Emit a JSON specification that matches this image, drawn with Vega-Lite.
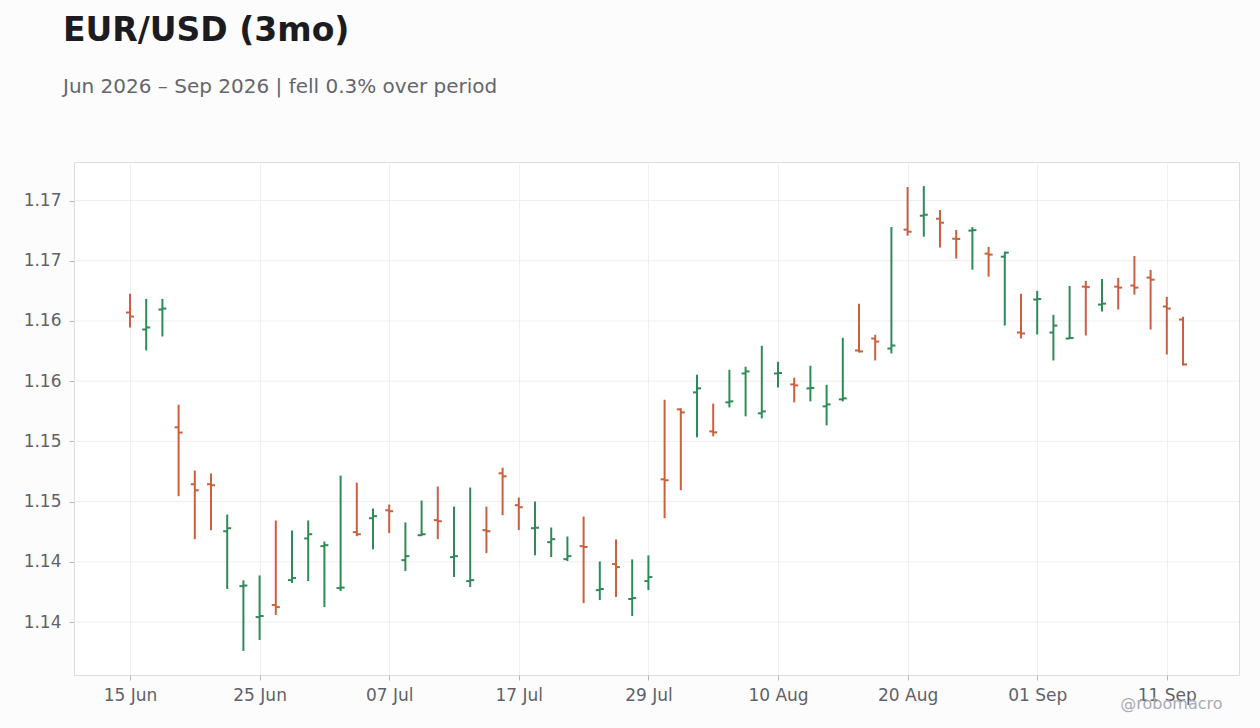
{
  "$schema": "https://vega.github.io/schema/vega-lite/v6.json",
  "width": 1165,
  "height": 513,
  "autosize": {"type": "none"},
  "padding": {"left": 74, "top": 162, "right": 21, "bottom": 53},
  "background": "#fcfcfc",
  "title": {
    "text": "EUR/USD (3mo)",
    "subtitle": "Jun 2026 – Sep 2026 | fell 0.3% over period",
    "anchor": "start",
    "frame": "group",
    "dx": -11,
    "offset": 65,
    "font": "DejaVu Sans",
    "fontSize": 33,
    "fontWeight": "bold",
    "color": "#1b1b20",
    "subtitleFont": "DejaVu Sans",
    "subtitleFontSize": 20,
    "subtitleColor": "#63666d",
    "subtitlePadding": 29
  },
  "data": {
    "values": [
      {"date": "2026-06-15", "open": 1.16070, "high": 1.16225, "low": 1.15946, "close": 1.16037},
      {"date": "2026-06-16", "open": 1.15929, "high": 1.16183, "low": 1.15755, "close": 1.15946},
      {"date": "2026-06-17", "open": 1.16095, "high": 1.16183, "low": 1.15871, "close": 1.16103},
      {"date": "2026-06-18", "open": 1.15117, "high": 1.15305, "low": 1.14545, "close": 1.15073},
      {"date": "2026-06-19", "open": 1.14644, "high": 1.14758, "low": 1.14188, "close": 1.14594},
      {"date": "2026-06-22", "open": 1.14644, "high": 1.14733, "low": 1.14263, "close": 1.14636},
      {"date": "2026-06-23", "open": 1.14254, "high": 1.14393, "low": 1.13774, "close": 1.14279},
      {"date": "2026-06-24", "open": 1.13798, "high": 1.13846, "low": 1.13260, "close": 1.13803},
      {"date": "2026-06-25", "open": 1.13541, "high": 1.13887, "low": 1.13351, "close": 1.13550},
      {"date": "2026-06-26", "open": 1.13641, "high": 1.14343, "low": 1.13558, "close": 1.13624},
      {"date": "2026-06-29", "open": 1.13848, "high": 1.14260, "low": 1.13823, "close": 1.13865},
      {"date": "2026-06-30", "open": 1.14194, "high": 1.14343, "low": 1.13840, "close": 1.14229},
      {"date": "2026-07-01", "open": 1.14130, "high": 1.14169, "low": 1.13624, "close": 1.14138},
      {"date": "2026-07-02", "open": 1.13782, "high": 1.14716, "low": 1.13757, "close": 1.13786},
      {"date": "2026-07-03", "open": 1.14246, "high": 1.14658, "low": 1.14213, "close": 1.14229},
      {"date": "2026-07-06", "open": 1.14362, "high": 1.14443, "low": 1.14105, "close": 1.14379},
      {"date": "2026-07-07", "open": 1.14428, "high": 1.14476, "low": 1.14238, "close": 1.14420},
      {"date": "2026-07-08", "open": 1.14014, "high": 1.14327, "low": 1.13923, "close": 1.14047},
      {"date": "2026-07-09", "open": 1.14221, "high": 1.14509, "low": 1.14213, "close": 1.14229},
      {"date": "2026-07-10", "open": 1.14346, "high": 1.14625, "low": 1.14188, "close": 1.14337},
      {"date": "2026-07-13", "open": 1.14039, "high": 1.14459, "low": 1.13873, "close": 1.14047},
      {"date": "2026-07-14", "open": 1.13840, "high": 1.14617, "low": 1.13790, "close": 1.13848},
      {"date": "2026-07-15", "open": 1.14263, "high": 1.14459, "low": 1.14072, "close": 1.14254},
      {"date": "2026-07-16", "open": 1.14735, "high": 1.14782, "low": 1.14387, "close": 1.14710},
      {"date": "2026-07-17", "open": 1.14470, "high": 1.14534, "low": 1.14263, "close": 1.14453},
      {"date": "2026-07-20", "open": 1.14279, "high": 1.14501, "low": 1.14055, "close": 1.14283},
      {"date": "2026-07-21", "open": 1.14163, "high": 1.14285, "low": 1.14039, "close": 1.14188},
      {"date": "2026-07-22", "open": 1.14022, "high": 1.14210, "low": 1.14006, "close": 1.14047},
      {"date": "2026-07-23", "open": 1.14130, "high": 1.14376, "low": 1.13657, "close": 1.14122},
      {"date": "2026-07-24", "open": 1.13765, "high": 1.14003, "low": 1.13682, "close": 1.13774},
      {"date": "2026-07-27", "open": 1.13981, "high": 1.14186, "low": 1.13707, "close": 1.13956},
      {"date": "2026-07-28", "open": 1.13691, "high": 1.14020, "low": 1.13550, "close": 1.13699},
      {"date": "2026-07-29", "open": 1.13840, "high": 1.14053, "low": 1.13765, "close": 1.13873},
      {"date": "2026-07-30", "open": 1.14685, "high": 1.15346, "low": 1.14362, "close": 1.14677},
      {"date": "2026-07-31", "open": 1.15266, "high": 1.15275, "low": 1.14594, "close": 1.15241},
      {"date": "2026-08-03", "open": 1.15407, "high": 1.15553, "low": 1.15034, "close": 1.15440},
      {"date": "2026-08-04", "open": 1.15083, "high": 1.15313, "low": 1.15042, "close": 1.15075},
      {"date": "2026-08-05", "open": 1.15324, "high": 1.15595, "low": 1.15282, "close": 1.15332},
      {"date": "2026-08-06", "open": 1.15564, "high": 1.15620, "low": 1.15208, "close": 1.15581},
      {"date": "2026-08-07", "open": 1.15233, "high": 1.15794, "low": 1.15191, "close": 1.15249},
      {"date": "2026-08-10", "open": 1.15564, "high": 1.15661, "low": 1.15448, "close": 1.15568},
      {"date": "2026-08-11", "open": 1.15473, "high": 1.15529, "low": 1.15324, "close": 1.15465},
      {"date": "2026-08-12", "open": 1.15440, "high": 1.15628, "low": 1.15332, "close": 1.15444},
      {"date": "2026-08-13", "open": 1.15291, "high": 1.15470, "low": 1.15133, "close": 1.15307},
      {"date": "2026-08-14", "open": 1.15349, "high": 1.15860, "low": 1.15332, "close": 1.15357},
      {"date": "2026-08-17", "open": 1.15755, "high": 1.16142, "low": 1.15738, "close": 1.15747},
      {"date": "2026-08-18", "open": 1.15854, "high": 1.15885, "low": 1.15672, "close": 1.15829},
      {"date": "2026-08-19", "open": 1.15771, "high": 1.16780, "low": 1.15730, "close": 1.15796},
      {"date": "2026-08-20", "open": 1.16758, "high": 1.17112, "low": 1.16708, "close": 1.16741},
      {"date": "2026-08-21", "open": 1.16874, "high": 1.17120, "low": 1.16700, "close": 1.16882},
      {"date": "2026-08-24", "open": 1.16849, "high": 1.16921, "low": 1.16609, "close": 1.16816},
      {"date": "2026-08-25", "open": 1.16683, "high": 1.16755, "low": 1.16518, "close": 1.16681},
      {"date": "2026-08-26", "open": 1.16750, "high": 1.16780, "low": 1.16426, "close": 1.16754},
      {"date": "2026-08-27", "open": 1.16559, "high": 1.16615, "low": 1.16368, "close": 1.16551},
      {"date": "2026-08-28", "open": 1.16534, "high": 1.16576, "low": 1.15962, "close": 1.16567},
      {"date": "2026-08-31", "open": 1.15904, "high": 1.16225, "low": 1.15854, "close": 1.15896},
      {"date": "2026-09-01", "open": 1.16178, "high": 1.16250, "low": 1.15887, "close": 1.16182},
      {"date": "2026-09-02", "open": 1.15904, "high": 1.16051, "low": 1.15672, "close": 1.15962},
      {"date": "2026-09-03", "open": 1.15854, "high": 1.16291, "low": 1.15850, "close": 1.15858},
      {"date": "2026-09-04", "open": 1.16285, "high": 1.16333, "low": 1.15879, "close": 1.16281},
      {"date": "2026-09-07", "open": 1.16136, "high": 1.16349, "low": 1.16078, "close": 1.16144},
      {"date": "2026-09-08", "open": 1.16285, "high": 1.16358, "low": 1.16095, "close": 1.16277},
      {"date": "2026-09-09", "open": 1.16294, "high": 1.16540, "low": 1.16219, "close": 1.16277},
      {"date": "2026-09-10", "open": 1.16360, "high": 1.16424, "low": 1.15929, "close": 1.16343},
      {"date": "2026-09-11", "open": 1.16120, "high": 1.16200, "low": 1.15722, "close": 1.16103},
      {"date": "2026-09-14", "open": 1.16012, "high": 1.16034, "low": 1.15630, "close": 1.15639}
    ]
  },
  "transform": [
    {"calculate": "datum.close >= datum.open ? 'up' : 'down'", "as": "dir"}
  ],
  "encoding": {
    "x": {
      "field": "date",
      "type": "ordinal",
      "scale": {"type": "point", "padding": 0, "range": [56, 1109]},
      "axis": {
        "values": ["2026-06-15", "2026-06-25", "2026-07-07", "2026-07-17", "2026-07-29", "2026-08-10", "2026-08-20", "2026-09-01", "2026-09-11"],
        "labelExpr": "utcFormat(toDate(datum.value), '%d %b')",
        "labelAngle": 0,
        "labelPadding": 7,
        "title": "@robomacro",
        "titleFont": "DejaVu Sans",
        "titleFontSize": 16,
        "titleFontWeight": "normal",
        "titleColor": "#a9abb2",
        "titleAlign": "right",
        "titleAnchor": "end",
        "titleBaseline": "middle",
        "titleX": 1148,
        "titleY": 28
      }
    }
  },
  "layer": [
    {
      "data": {"values": [
        {"v": 1.135}, {"v": 1.14}, {"v": 1.145}, {"v": 1.15},
        {"v": 1.155}, {"v": 1.16}, {"v": 1.165}, {"v": 1.17}
      ]},
      "mark": {"type": "rule", "color": "#efefef", "strokeWidth": 1},
      "encoding": {
        "x": null,
        "y": {
          "field": "v",
          "type": "quantitative",
          "scale": {"domain": [1.1306, 1.1732], "nice": false, "zero": false},
          "axis": {
            "values": [1.135, 1.14, 1.145, 1.15, 1.155, 1.16, 1.165, 1.17],
            "labelExpr": "format(datum.value + 0.0001, '.2f')",
            "labelPadding": 8,
            "grid": false,
            "title": null
          }
        }
      }
    },
    {
      "mark": {"type": "rule", "strokeWidth": 2},
      "encoding": {
        "y": {"field": "low", "type": "quantitative"},
        "y2": {"field": "high"},
        "color": {
          "field": "dir",
          "type": "nominal",
          "scale": {"domain": ["up", "down"], "range": ["#2e8b57", "#cb5f3e"]},
          "legend": null
        }
      }
    },
    {
      "mark": {"type": "tick", "size": 4, "thickness": 2, "xOffset": -2, "opacity": 1},
      "encoding": {
        "y": {"field": "open", "type": "quantitative"},
        "color": {"field": "dir", "type": "nominal", "legend": null}
      }
    },
    {
      "mark": {"type": "tick", "size": 4, "thickness": 2, "xOffset": 2, "opacity": 1},
      "encoding": {
        "y": {"field": "close", "type": "quantitative"},
        "color": {"field": "dir", "type": "nominal", "legend": null}
      }
    }
  ],
  "config": {
    "view": {"stroke": "#dcdcdf", "fill": "#ffffff"},
    "axis": {
      "labelFont": "DejaVu Sans",
      "labelFontSize": 17,
      "labelColor": "#5f626a",
      "gridColor": "#efefef",
      "grid": true,
      "domain": false,
      "tickColor": "#b4b6bb",
      "tickSize": 5
    }
  }
}
